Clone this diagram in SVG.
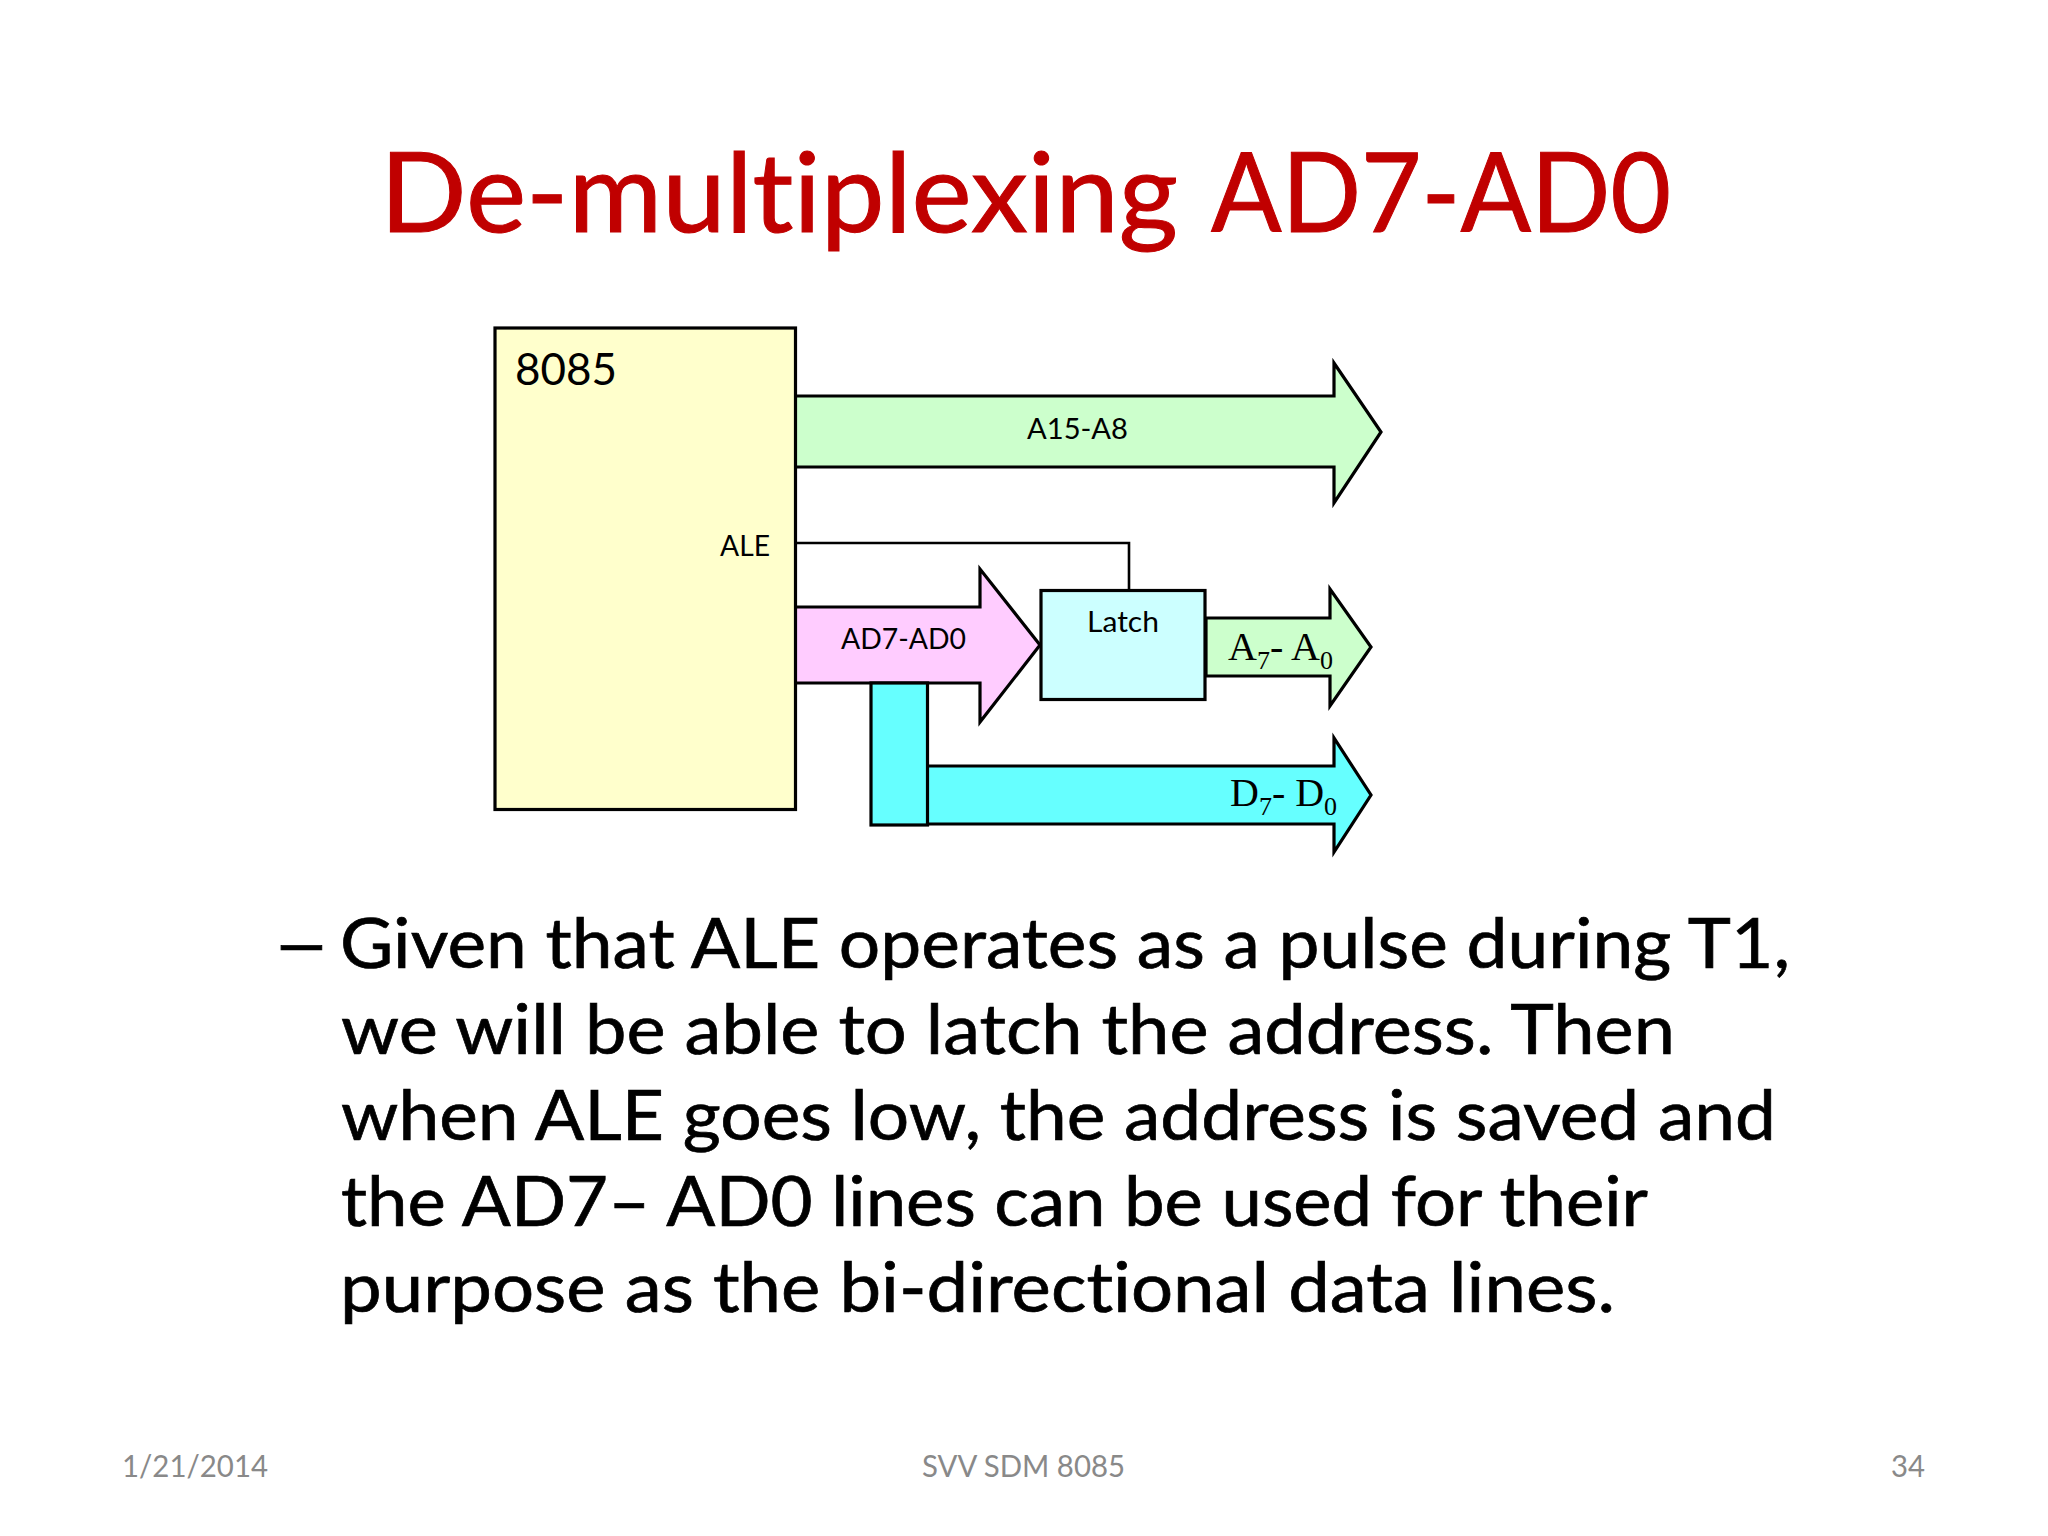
<svg xmlns="http://www.w3.org/2000/svg" width="2048" height="1536" viewBox="0 0 2048 1536">
<style>
text{font-family:"Lato","Noto Sans",sans-serif;fill:#000;font-variant-ligatures:none}
.serif{font-family:"Liberation Serif","Times New Roman",serif;font-size:40px}
.serif .sub{font-size:26px}
.shape{stroke:#000;stroke-width:3.2;stroke-linejoin:miter}
.line{fill:none;stroke:#000;stroke-width:2.6}
.label{font-size:29px}
.body{font-size:70px;stroke:#000;stroke-width:.7}
.head{font-size:110px;fill:#C00000;stroke:#C00000;stroke-width:1}
.foot{font-size:31px;fill:#898989}
</style>
<rect width="2048" height="1536" fill="#fff"/>
<g id="title">
<text class="head" x="380" y="232" textLength="798" lengthAdjust="spacingAndGlyphs">De-multiplexing</text>
<text class="head" x="1211" y="232" textLength="460" lengthAdjust="spacingAndGlyphs">AD7-AD0</text>
</g>
<g id="connectors">
<polyline class="line" points="795,543 1129,543 1129,590"/>
<g id="bus-a15-a8">
<polygon class="shape" fill="#CCFFCC" points="795,396 1334,396 1334,363 1381,432 1334,503 1334,467 795,467"/>
<text class="label" x="1027" y="439" textLength="101" lengthAdjust="spacingAndGlyphs">A15-A8</text>
</g>
<g id="bus-ad7-ad0">
<polygon class="shape" fill="#FFCCFF" points="795,607 980,607 980,569 1040,645 980,722 980,683 795,683"/>
<text class="label" x="841" y="649" textLength="125" lengthAdjust="spacingAndGlyphs">AD7-AD0</text>
</g>
<g id="bus-a7-a0">
<polygon class="shape" fill="#CCFFCC" points="1206,618 1330,618 1330,589 1371,647 1330,706 1330,676 1206,676"/>
<text class="serif" x="1228" y="660">A<tspan class="sub" dy="9">7</tspan><tspan dy="-9">- A</tspan><tspan class="sub" dy="9">0</tspan></text>
</g>
<g id="bus-d7-d0">
<polygon class="shape" fill="#66FFFF" points="927,766 1334,766 1334,738 1371,795 1334,852 1334,824 927,824"/>
<rect class="shape" fill="#66FFFF" x="871" y="683" width="56.500" height="142"/>
<text class="serif" x="1230" y="806">D<tspan class="sub" dy="9">7</tspan><tspan dy="-9">- D</tspan><tspan class="sub" dy="9">0</tspan></text>
</g>
</g>
<g id="node-8085">
<rect class="shape" fill="#FFFFCC" x="495" y="328" width="300.500" height="481.500"/>
<text x="515" y="385" font-size="44" textLength="102" lengthAdjust="spacingAndGlyphs">8085</text>
<text class="label" x="720" y="556" textLength="50" lengthAdjust="spacingAndGlyphs">ALE</text>
</g>
<g id="node-latch">
<rect class="shape" fill="#CCFFFF" x="1041" y="590.500" width="164" height="109"/>
<text class="label" x="1087" y="632" textLength="72" lengthAdjust="spacingAndGlyphs">Latch</text>
</g>
<g id="body">
<text class="body" transform="translate(272,968) scale(1.45,1)" x="0" y="0">–</text>
<text class="body" x="340" y="968" textLength="1450" lengthAdjust="spacingAndGlyphs">Given that ALE operates as a pulse during T1,</text>
<text class="body" x="341" y="1054" textLength="1334" lengthAdjust="spacingAndGlyphs">we will be able to latch the address. Then</text>
<text class="body" x="341" y="1140" textLength="1435" lengthAdjust="spacingAndGlyphs">when ALE goes low, the address is saved and</text>
<text class="body" x="341" y="1226" textLength="1307" lengthAdjust="spacingAndGlyphs">the AD7– AD0 lines can be used for their</text>
<text class="body" x="340" y="1312" textLength="1275" lengthAdjust="spacingAndGlyphs">purpose as the bi-directional data lines.</text>
</g>
<g id="footer">
<text class="foot" x="122" y="1477" textLength="146" lengthAdjust="spacingAndGlyphs">1/21/2014</text>
<text class="foot" x="922" y="1477" textLength="203" lengthAdjust="spacingAndGlyphs">SVV SDM 8085</text>
<text class="foot" x="1891" y="1477" textLength="34" lengthAdjust="spacingAndGlyphs">34</text>
</g>
</svg>
